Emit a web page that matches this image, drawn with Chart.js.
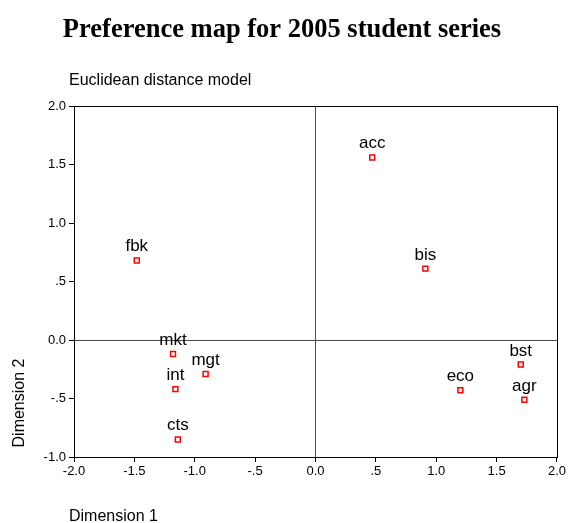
<!DOCTYPE html>
<html lang="en">
  <head>
    <meta charset="UTF-8" />
    <title>Preference map for 2005 student series</title>
    <script src="https://cdn.jsdelivr.net/npm/chart.js"></script>
    <style>
      html, body { margin: 0; padding: 0; background: #fff; }
      #mapChart { display: block; }
    </style>
  </head>
  <body>
    <canvas id="mapChart" width="568" height="523"></canvas>

    <script>
      // Course codes and their coordinates on the two dimensions
      const courses = ["acc", "bis", "fbk", "mkt", "mgt", "int", "cts", "eco", "bst", "agr"];
      const dim1 = [0.47, 0.91, -1.48, -1.18, -0.91, -1.16, -1.14, 1.20, 1.70, 1.73];
      const dim2 = [1.56, 0.61, 0.68, -0.12, -0.29, -0.42, -0.85, -0.43, -0.21, -0.51];

      const xTicks = [-2, -1.5, -1, -0.5, 0, 0.5, 1, 1.5, 2];
      const yTicks = [-1, -0.5, 0, 0.5, 1, 1.5, 2];

      const sans = "'Liberation Sans', Arial, sans-serif";

      // SPSS style labels: 0.0, .5, -.5, 1.0 ...
      function fmt(v) {
        if (v === 0) return "0.0";
        if (Math.abs(v) < 1) return (v < 0 ? "-" : "") + String(Math.abs(v).toFixed(1)).slice(1);
        return v.toFixed(1);
      }

      const points = courses.map((c, i) => ({ x: dim1[i], y: dim2[i] }));

      const zeroLine = (ctx) =>
        ctx.tick && ctx.tick.value === 0 ? "#4a4a4a" : "rgba(0,0,0,0)";

      // frame round the plot, course names, titles
      const decorations = {
        id: "decorations",
        afterDatasetsDraw(chart) {
          const ctx = chart.ctx;
          const meta = chart.getDatasetMeta(0);
          ctx.save();
          ctx.fillStyle = "#000";
          ctx.font = "17px " + sans;
          ctx.textAlign = "center";
          ctx.textBaseline = "alphabetic";
          meta.data.forEach((pt, i) => {
            ctx.fillText(courses[i], pt.x, pt.y - 9);
          });
          ctx.restore();
        },
        afterDraw(chart) {
          const ctx = chart.ctx;
          const a = chart.chartArea;
          ctx.save();
          ctx.strokeStyle = "#000";
          ctx.lineWidth = 1;
          ctx.strokeRect(Math.round(a.left) + 0.5, Math.round(a.top) + 0.5,
            Math.round(a.right - a.left), Math.round(a.bottom - a.top));

          ctx.fillStyle = "#000";
          ctx.font = "bold 26.5px 'Liberation Serif', 'Times New Roman', serif";
          ctx.textAlign = "center";
          ctx.fillText("Preference map for 2005 student series", 282, 37);

          ctx.font = "16px " + sans;
          ctx.textAlign = "left";
          ctx.fillText("Euclidean distance model", 69, 85);
          ctx.fillText("Dimension 1", 69, 521);

          ctx.translate(24, 403);
          ctx.rotate(-Math.PI / 2);
          ctx.textAlign = "center";
          ctx.fillText("Dimension 2", 0, 0);
          ctx.restore();
        }
      };

      new Chart(document.getElementById("mapChart"), {
        type: "scatter",
        data: {
          datasets: [
            {
              data: points,
              pointStyle: "rect",
              pointRadius: 3.5,
              pointHoverRadius: 3.5,
              borderColor: "#ff0000",
              borderWidth: 1.5,
              backgroundColor: "#ffffff"
            }
          ]
        },
        options: {
          responsive: false,
          animation: false,
          layout: { padding: { top: 106, right: 10, left: 0, bottom: 0 } },
          plugins: {
            legend: { display: false },
            tooltip: { enabled: false }
          },
          scales: {
            x: {
              type: "linear",
              min: -2,
              max: 2,
              afterFit: (s) => { s.height = 66; },
              afterBuildTicks: (s) => { s.ticks = xTicks.map((v) => ({ value: v })); },
              ticks: {
                callback: (v) => fmt(v),
                color: "#000",
                font: { family: sans, size: 13 },
                padding: 2,
                maxRotation: 0
              },
              grid: { color: zeroLine, tickColor: "#000", tickLength: 5, lineWidth: 1 },
              border: { color: "#000" }
            },
            y: {
              type: "linear",
              min: -1,
              max: 2,
              afterFit: (s) => { s.width = 74; },
              afterBuildTicks: (s) => { s.ticks = yTicks.map((v) => ({ value: v })); },
              ticks: {
                callback: (v) => fmt(v),
                color: "#000",
                font: { family: sans, size: 13 },
                padding: 3
              },
              grid: { color: zeroLine, tickColor: "#000", tickLength: 5, lineWidth: 1 },
              border: { color: "#000" }
            }
          }
        },
        plugins: [decorations]
      });
    </script>
  </body>
</html>
